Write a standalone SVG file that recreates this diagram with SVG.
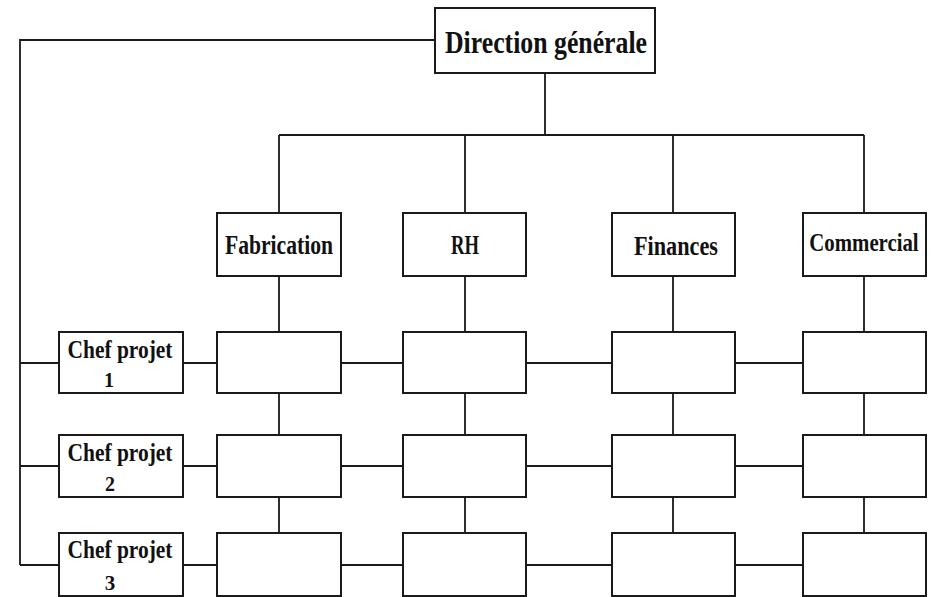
<svg xmlns="http://www.w3.org/2000/svg" width="932" height="597" viewBox="0 0 932 597">
  <style>
    .box { fill: #ffffff; stroke: #1a1a1a; stroke-width: 2; }
    .wire { fill: none; stroke: #1a1a1a; stroke-width: 1.8; }
    .lbl { font-family: "Liberation Serif", "DejaVu Serif", serif; font-weight: bold; fill: #111111; }
  </style>
  <rect width="932" height="597" fill="#ffffff"/>

  <!-- connectors -->
  <g id="connectors" class="wire">
    <!-- direction to project chiefs -->
    <path d="M435,40 H20 V565"/>
    <path d="M20,363 H59 M20,466 H59 M20,565 H59"/>
    <!-- direction to departments -->
    <path d="M545,73 V135 M279,135 H864"/>
    <path d="M279,135 V213 M465,135 V213 M673,135 V213 M864,135 V213"/>
    <!-- department columns -->
    <path d="M279,276 V332 M279,393 V435 M279,497 V533"/>
    <path d="M465,276 V332 M465,393 V435 M465,497 V533"/>
    <path d="M673,276 V332 M673,393 V435 M673,497 V533"/>
    <path d="M864,276 V332 M864,393 V435 M864,497 V533"/>
    <!-- project rows -->
    <path d="M183,363 H217 M341,363 H403 M526,363 H612 M735,363 H803"/>
    <path d="M183,466 H217 M341,466 H403 M526,466 H612 M735,466 H803"/>
    <path d="M183,565 H217 M341,565 H403 M526,565 H612 M735,565 H803"/>
  </g>

  <!-- top management -->
  <g id="direction">
    <rect class="box" x="435" y="8" width="220" height="65"/>
    <text class="lbl" x="546" y="53" font-size="32" text-anchor="middle" textLength="202" lengthAdjust="spacingAndGlyphs">Direction générale</text>
  </g>

  <!-- departments -->
  <g id="fabrication">
    <rect class="box" x="217" y="213" width="124" height="63"/>
    <text class="lbl" x="279" y="254" font-size="27" text-anchor="middle" textLength="108" lengthAdjust="spacingAndGlyphs">Fabrication</text>
  </g>
  <g id="rh">
    <rect class="box" x="403" y="213" width="123" height="63"/>
    <text class="lbl" x="465" y="254" font-size="27" text-anchor="middle" textLength="28" lengthAdjust="spacingAndGlyphs">RH</text>
  </g>
  <g id="finances">
    <rect class="box" x="612" y="213" width="123" height="63"/>
    <text class="lbl" x="676" y="255" font-size="27" text-anchor="middle" textLength="84" lengthAdjust="spacingAndGlyphs">Finances</text>
  </g>
  <g id="commercial">
    <rect class="box" x="803" y="213" width="123" height="63"/>
    <!-- condensed horizontally so the label fits the narrow box -->
    <text class="lbl" transform="translate(864,251) scale(0.8,1)" font-size="26" text-anchor="middle">Commercial</text>
  </g>

  <!-- project chiefs -->
  <g id="chef1">
    <rect class="box" x="59" y="332" width="124" height="61"/>
    <text class="lbl" x="120" y="358" font-size="25" text-anchor="middle" textLength="105" lengthAdjust="spacingAndGlyphs">Chef projet</text>
    <text class="lbl" x="109" y="387" font-size="20" text-anchor="middle">1</text>
  </g>
  <g id="chef2">
    <rect class="box" x="59" y="435" width="124" height="62"/>
    <text class="lbl" x="120" y="461" font-size="25" text-anchor="middle" textLength="105" lengthAdjust="spacingAndGlyphs">Chef projet</text>
    <text class="lbl" x="110" y="491" font-size="20" text-anchor="middle">2</text>
  </g>
  <g id="chef3">
    <rect class="box" x="59" y="533" width="124" height="63"/>
    <text class="lbl" x="120" y="558" font-size="25" text-anchor="middle" textLength="105" lengthAdjust="spacingAndGlyphs">Chef projet</text>
    <text class="lbl" x="110" y="590" font-size="21" text-anchor="middle">3</text>
  </g>

  <!-- task cells: rows = projects, columns = departments -->
  <g id="cell-1-fabrication"><rect class="box" x="217" y="332" width="124" height="61"/></g>
  <g id="cell-1-rh"><rect class="box" x="403" y="332" width="123" height="61"/></g>
  <g id="cell-1-finances"><rect class="box" x="612" y="332" width="123" height="61"/></g>
  <g id="cell-1-commercial"><rect class="box" x="803" y="332" width="123" height="61"/></g>

  <g id="cell-2-fabrication"><rect class="box" x="217" y="435" width="124" height="62"/></g>
  <g id="cell-2-rh"><rect class="box" x="403" y="435" width="123" height="62"/></g>
  <g id="cell-2-finances"><rect class="box" x="612" y="435" width="123" height="62"/></g>
  <g id="cell-2-commercial"><rect class="box" x="803" y="435" width="123" height="62"/></g>

  <g id="cell-3-fabrication"><rect class="box" x="217" y="533" width="124" height="63"/></g>
  <g id="cell-3-rh"><rect class="box" x="403" y="533" width="123" height="63"/></g>
  <g id="cell-3-finances"><rect class="box" x="612" y="533" width="123" height="63"/></g>
  <g id="cell-3-commercial"><rect class="box" x="803" y="533" width="123" height="63"/></g>
</svg>
